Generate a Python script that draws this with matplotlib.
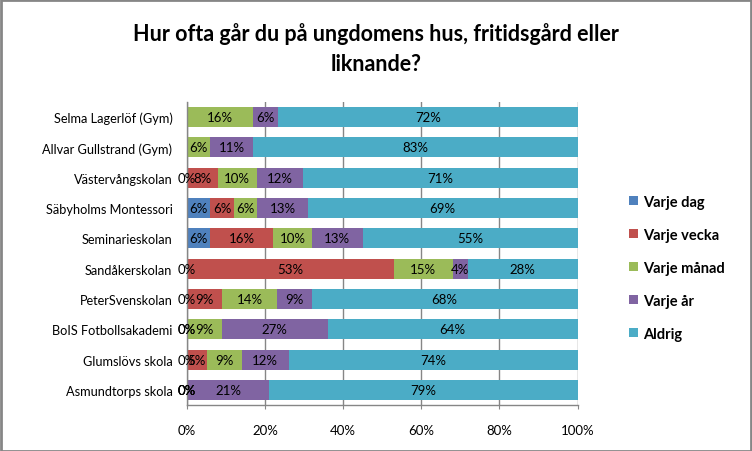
import numpy as np
import matplotlib
matplotlib.use("Agg")
import matplotlib.pyplot as plt
from matplotlib.patches import Rectangle

plt.rcParams['font.family'] = ['Lato', 'DejaVu Sans']

title_lines = ["Hur ofta går du på ungdomens hus, fritidsgård eller", "liknande?"]
schools = ["Selma Lagerlöf (Gym)", "Allvar Gullstrand (Gym)", "Västervångskolan",
           "Säbyholms Montessori", "Seminarieskolan", "Sandåkerskolan",
           "PeterSvenskolan", "BoIS Fotbollsakademi", "Glumslövs skola",
           "Asmundtorps skola"]
series_names = ["Varje dag", "Varje vecka", "Varje månad", "Varje år", "Aldrig"]
nan = np.nan
varje_dag   = [nan, nan, 0, 6, 6, 0, 0, 0, 0, 0]
varje_vecka = [nan, nan, 8, 6, 16, 53, 9, 0, 5, 0]
varje_manad = [16, 6, 10, 6, 10, 15, 14, 9, 9, 0]
varje_ar    = [6, 11, 12, 13, 13, 4, 9, 27, 12, 21]
aldrig      = [72, 83, 71, 69, 55, 28, 68, 64, 74, 79]
xticks = [0, 20, 40, 60, 80, 100]
xticklabels = ["0%", "20%", "40%", "60%", "80%", "100%"]

colors = ["#4F81BD", "#C0504D", "#9BBB59", "#8064A2", "#4BACC6"]

data = np.array([varje_dag, varje_vecka, varje_manad, varje_ar, aldrig], dtype=float)
totals = np.nansum(data, axis=0)
norm = np.nan_to_num(data) / totals * 100

W, H = 752, 452
fig = plt.figure(figsize=(W / 100, H / 100), dpi=100)
ax = fig.add_axes([187 / W, 1 - 406 / H, (577.5 - 187) / W, (406 - 103) / H])

y = np.arange(len(schools))
left = np.zeros(len(schools))
for i, name in enumerate(series_names):
    ax.barh(y, norm[i], left=left, height=0.66, color=colors[i], label=name, zorder=2)
    for j in range(len(schools)):
        v = data[i, j]
        if not np.isnan(v):
            ax.text(left[j] + norm[i, j] / 2, y[j], f"{int(v)}%", ha="center", va="center",
                    fontsize=9.5, color="black", zorder=3, clip_on=False)
    left += norm[i]

ax.set_xlim(0, 100)
ax.set_ylim(len(schools) - 0.5, -0.5)
ax.set_yticks(y)
ax.set_yticklabels(schools, fontsize=9.2)
ax.set_xticks(xticks)
ax.set_xticklabels(xticklabels, fontsize=9.5)
ax.tick_params(axis="y", length=0, pad=10.5)
ax.tick_params(axis="x", length=3, pad=11, color="#868686")
ax.grid(axis="x", color="#868686", linewidth=1, zorder=1)
for s in ["top", "right"]:
    ax.spines[s].set_visible(False)
for s in ["left", "bottom"]:
    ax.spines[s].set_color("#868686")
    ax.spines[s].set_linewidth(1)

fig.text(376 / W, 1 - 41 / H, title_lines[0], ha="center", va="baseline", fontsize=15.5,
         fontweight="bold")
fig.text(376 / W, 1 - 71 / H, title_lines[1], ha="center", va="baseline", fontsize=15.5,
         fontweight="bold")

leg = ax.legend(loc="upper left", bbox_to_anchor=(629 / W, 1 - 196 / H),
                bbox_transform=fig.transFigure, frameon=False,
                prop={"weight": "bold", "size": 10.5}, handlelength=0.6,
                handleheight=0.6, handletextpad=0.35, labelspacing=1.3,
                borderpad=0, borderaxespad=0)

fig.add_artist(Rectangle((0.5 / W, 0.5 / H), 1 - 1.5 / W, 1 - 1.5 / H,
                         transform=fig.transFigure, fill=False,
                         edgecolor="#868686", linewidth=2))

fig.savefig("out.png", dpi=100)
